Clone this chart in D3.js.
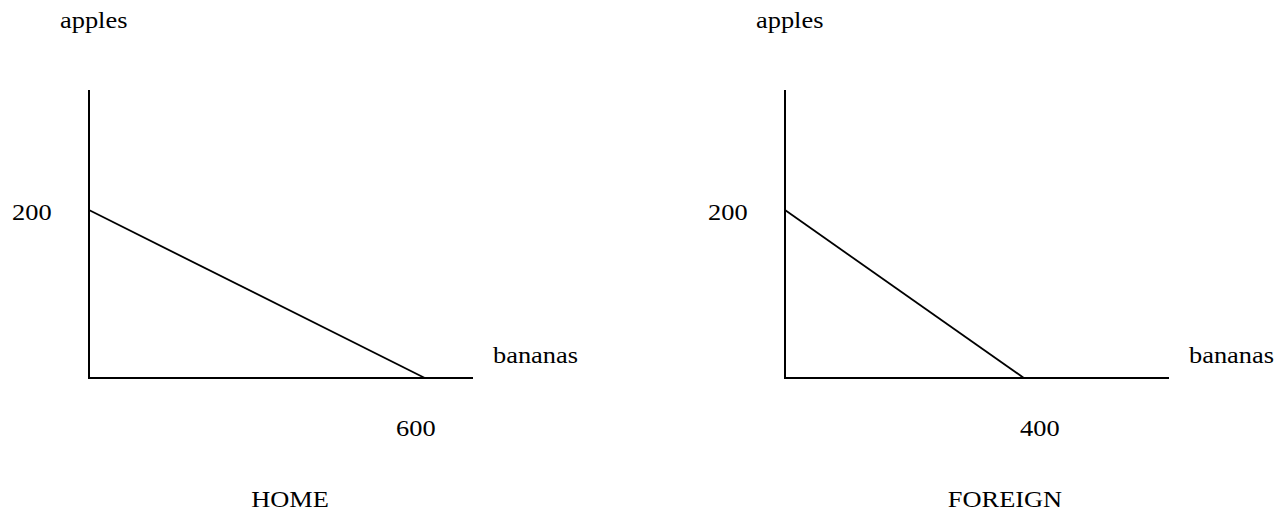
<!DOCTYPE html>
<html>
<head>
<meta charset="utf-8">
<script src="https://cdn.jsdelivr.net/npm/d3@7"></script>
<style>
  html, body { margin: 0; padding: 0; background: #fff; }
</style>
</head>
<body>
<div id="chart"></div>
<script>
// production possibility frontiers, one per country
const countries = ['HOME', 'FOREIGN'];
const appleMax = [200, 200];     // y intercepts
const bananaMax = [600, 400];    // x intercepts
const yAxisTop = [343, 343];     // axis extent in data units
const xAxisEnd = [686, 643];
const xLabel = 'bananas';
const yLabel = 'apples';

const W = 1281, H = 512;
const svg = d3.select('#chart').append('svg')
  .attr('width', W)
  .attr('height', H);

const panelLeft = [89, 785];
const axisLen = 384;
const y0 = 378, yTop = 90;
const fs = 24;
const font = 'Liberation Serif';
// hand placed label nudges (px)
const interceptNudge = [-9, 16];
const titleOffset = [201, 220];

countries.forEach((name, i) => {
  const g = svg.append('g');
  const x = d3.scaleLinear().domain([0, xAxisEnd[i]]).range([panelLeft[i], panelLeft[i] + axisLen]);
  const y = d3.scaleLinear().domain([0, yAxisTop[i]]).range([y0, yTop]);

  // axes as plain lines
  g.append('line')
    .attr('x1', x(0)).attr('x2', x(0))
    .attr('y1', y(0) + 1).attr('y2', y(yAxisTop[i]))
    .attr('stroke', '#000').attr('stroke-width', 2);
  g.append('line')
    .attr('x1', x(0)).attr('x2', x(xAxisEnd[i]))
    .attr('y1', y(0)).attr('y2', y(0))
    .attr('stroke', '#000').attr('stroke-width', 2);

  // frontier
  g.append('path')
    .datum([[0, appleMax[i]], [bananaMax[i], 0]])
    .attr('d', d3.line().x(d => x(d[0])).y(d => y(d[1])))
    .attr('fill', 'none')
    .attr('stroke', '#000')
    .attr('stroke-width', 1.8);

  const label = (txt, tx, ty, anchor) => g.append('text')
    .attr('transform', `translate(${tx},${ty}) scale(1.1,1)`)
    .attr('text-anchor', anchor)
    .attr('font-family', font)
    .attr('font-size', fs)
    .attr('fill', '#000')
    .text(txt);

  label(yLabel, x(0) - 29, 28, 'start');
  label(appleMax[i], x(0) - 77, y(appleMax[i]) + 10, 'start');
  label(xLabel, x(xAxisEnd[i]) + 20, 363, 'start');
  label(bananaMax[i], x(bananaMax[i]) + interceptNudge[i], 436, 'middle');
  label(name, x(0) + titleOffset[i], 507, 'middle');
});
</script>
</body>
</html>
